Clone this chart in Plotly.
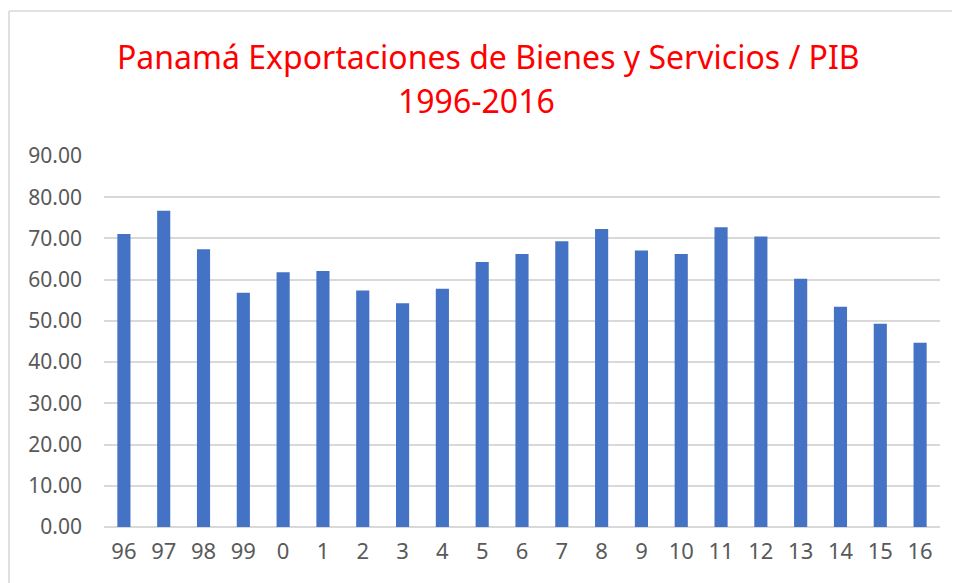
import plotly.graph_objects as go

years = ["96", "97", "98", "99", "0", "1", "2", "3", "4", "5", "6",
         "7", "8", "9", "10", "11", "12", "13", "14", "15", "16"]
values = [71.1, 76.7, 67.4, 56.8, 61.8, 62.1, 57.4, 54.3, 57.8, 64.3, 66.2,
          69.3, 72.3, 67.1, 66.2, 72.7, 70.5, 60.2, 53.4, 49.3, 44.7]
yticks = [0, 10, 20, 30, 40, 50, 60, 70, 80, 90]
title_lines = ["Panamá Exportaciones de Bienes y Servicios / PIB", "1996-2016"]

FONT = "Noto Sans"
OFF = 8  # page body margin offset
fig = go.Figure()
fig.add_trace(go.Bar(
    x=list(range(len(years))), y=values,
    marker=dict(color="#4472C4", line=dict(width=0)),
    hoverinfo="x+y",
))

W, H = 960, 583
L = 104 - OFF
T = 156 - OFF
R = W - (940 - OFF)
B = H - (527 - OFF)
pw, ph = W - L - R, H - T - B

def px_x(px):
    return (px - OFF - L) / pw

def px_y(py):
    return (H - B - (py - OFF)) / ph

fig.update_layout(
    width=W, height=H,
    margin=dict(l=L, r=R, t=T, b=B),
    paper_bgcolor="white", plot_bgcolor="white",
    bargap=0.67,
    showlegend=False,
    font=dict(family=FONT, color="#595959"),
    xaxis=dict(
        tickmode="array", tickvals=list(range(len(years))), ticktext=years,
        range=[-0.5, len(years) - 0.5],
        showgrid=False, zeroline=False, showline=False,
        tickfont=dict(size=22, color="#595959", family=FONT),
        ticks="", ticklabelstandoff=9,
    ),
    yaxis=dict(
        range=[0, 90], tickvals=yticks,
        ticktext=[f"{v:.2f}" for v in yticks],
        showgrid=True, gridcolor="#D9D9D9", gridwidth=1.6,
        zeroline=True, zerolinecolor="#D9D9D9", zerolinewidth=1.6,
        showline=False, ticks="",
        tickfont=dict(size=21, color="#595959", family=FONT),
        ticklabelstandoff=21,
    ),
    shapes=[
        dict(type="line", xref="paper", yref="paper",
             x0=px_x(9), x1=px_x(980), y0=px_y(11), y1=px_y(11),
             line=dict(color="#D9D9D9", width=1.6)),
        dict(type="line", xref="paper", yref="paper",
             x0=px_x(9), x1=px_x(9), y0=px_y(11), y1=px_y(620),
             line=dict(color="#D9D9D9", width=1.6)),
    ],
    annotations=[
        dict(text=title_lines[0], xref="paper", yref="paper",
             x=px_x(488), y=px_y(57), xanchor="center", yanchor="middle",
             showarrow=False, font=dict(size=32, color="#FF0000", family=FONT)),
        dict(text=title_lines[1], xref="paper", yref="paper",
             x=px_x(476), y=px_y(100), xanchor="center", yanchor="middle",
             showarrow=False, font=dict(size=32, color="#FF0000", family=FONT)),
    ],
)

fig.write_html("out.html")
